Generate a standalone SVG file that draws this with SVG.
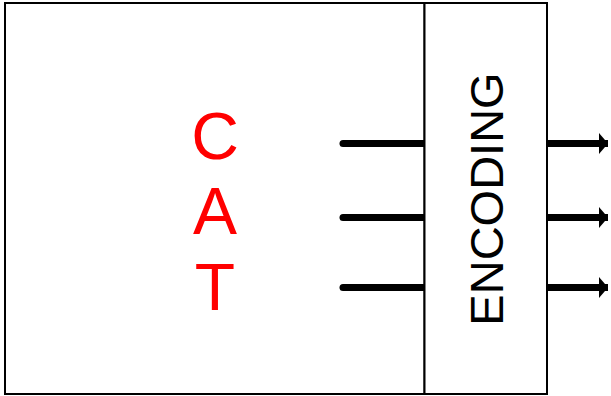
<svg xmlns="http://www.w3.org/2000/svg" width="611" height="396" viewBox="0 0 611 396">
<style>
.box{fill:#fff;stroke:#000;stroke-width:2}
.in{stroke:#000;stroke-width:7;stroke-linecap:round;fill:none}
.out{stroke:#000;stroke-width:7;fill:none}
.cat{font-family:"Liberation Sans",Arial,sans-serif;font-size:66px;fill:#f00;text-anchor:middle}
.enc{font-family:"Liberation Sans",Arial,sans-serif;font-size:47px;fill:#000;text-anchor:middle}
</style>
<defs>
<marker id="ah" markerUnits="userSpaceOnUse" markerWidth="12" markerHeight="22" refX="9" refY="10.5" orient="auto">
<polygon points="0,0 9,10.5 0,21" fill="#000"/>
</marker>
</defs>
<g id="source">
<rect class="box" x="5" y="3" width="419.5" height="391"/>
<text class="cat" x="215" y="159">C</text>
<text class="cat" x="215" y="234">A</text>
<text class="cat" x="215" y="310">T</text>
</g>
<g id="encoding">
<rect class="box" x="424.5" y="3" width="122.5" height="391"/>
<text class="enc" transform="translate(503,199) rotate(-90)">ENCODING</text>
</g>
<g id="connectors">
<path class="in" d="M343,143.5 H420"/>
<path class="in" d="M343,217.5 H420"/>
<path class="in" d="M343,287.5 H420"/>
<rect x="419" y="140" width="5" height="7"/>
<rect x="419" y="214" width="5" height="7"/>
<rect x="419" y="284" width="5" height="7"/>
<line class="out" x1="548" y1="143.5" x2="608" y2="143.5" marker-end="url(#ah)"/>
<line class="out" x1="548" y1="217.5" x2="608" y2="217.5" marker-end="url(#ah)"/>
<line class="out" x1="548" y1="287.5" x2="608" y2="287.5" marker-end="url(#ah)"/>
</g>
</svg>
